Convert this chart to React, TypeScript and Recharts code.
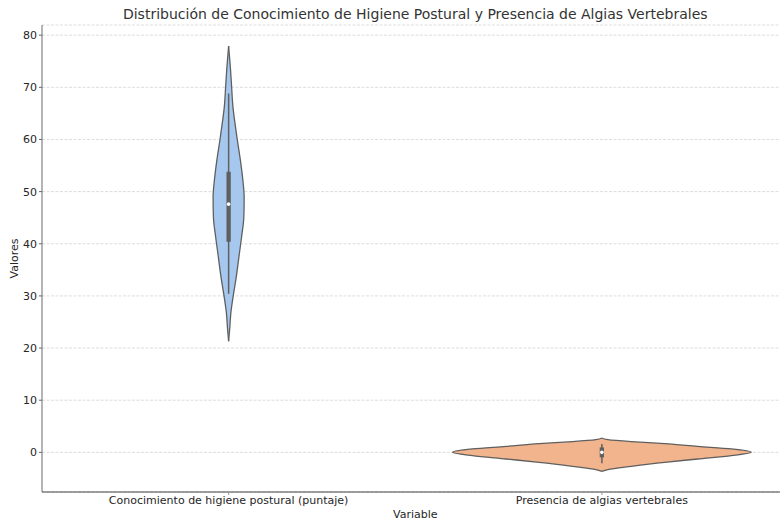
import React from "react";
import {
  ComposedChart,
  Area,
  Line,
  XAxis,
  YAxis,
  CartesianGrid,
  Label,
} from "recharts";

// Category names on the x axis (positions 0 and 1)
const categories = [
  "Conocimiento de higiene postural (puntaje)",
  "Presencia de algias vertebrales",
];

// Kernel-density outline of each violin: value -> half width (in category units)
const conocimientoValues = [21.3, 23.5, 26.7, 29.9, 33.7, 37.5, 41.4, 45.2, 49.0, 52.2, 56.1, 59.9, 62.5, 66.3, 70.1, 73.9, 77.9];
const conocimientoHalfWidth = [0, 0.0027, 0.0059, 0.0121, 0.0206, 0.0276, 0.0349, 0.0408, 0.0416, 0.0381, 0.0314, 0.0233, 0.0182, 0.0115, 0.008, 0.0046, 0];

const algiasValues = [-3.64, -3.31, -2.68, -1.91, -1.27, -0.63, 0, 0.65, 1.15, 1.67, 2.05, 2.43, 2.75];
const algiasHalfWidth = [0, 0.016, 0.079, 0.168, 0.257, 0.347, 0.4, 0.347, 0.257, 0.168, 0.079, 0.016, 0];

// Inner box summary: [whisker low, Q1, median, Q3, whisker high]
const conocimientoBox = [30.4, 40.4, 47.6, 53.8, 68.8];
const algiasBox = [-2.1, -0.95, 0, 0.95, 1.6];

const yTicks = [0, 10, 20, 30, 40, 50, 60, 70, 80];

const violinFill = ["#a7c8ee", "#f1b48c"];
const outline = "#5f5f5f";

const violins = [
  { values: conocimientoValues, half: conocimientoHalfWidth, box: conocimientoBox },
  { values: algiasValues, half: algiasHalfWidth, box: algiasBox },
];

// Per-violin tables for the vertical-layout chart, keyed by value "v"
const shapes = violins.map((vi, i) =>
  vi.values.map((v, k) => ({ v, x: [i - vi.half[k], i + vi.half[k]] }))
);
const whiskers = violins.map((vi, i) => [
  { v: vi.box[0], x: i },
  { v: vi.box[4], x: i },
]);
const boxes = violins.map((vi, i) => [
  { v: vi.box[1], x: i },
  { v: vi.box[3], x: i },
]);
const medians = violins.map((vi, i) => [{ v: vi.box[2], x: i }]);

const font = "'DejaVu Sans', sans-serif";

export default function App() {
  return (
    <div
      style={{
        position: "absolute",
        left: 0,
        top: 0,
        width: 780,
        height: 525,
        overflow: "hidden",
        background: "#ffffff",
        fontFamily: font,
      }}
    >
      <div
        style={{
          position: "absolute",
          left: 0,
          top: 6,
          width: 830.5,
          textAlign: "center",
          fontSize: 14,
          color: "#333333",
          whiteSpace: "nowrap",
        }}
      >
        Distribución de Conocimiento de Higiene Postural y Presencia de Algias Vertebrales
      </div>
      <ComposedChart
        layout="vertical"
        width={790}
        height={525}
        margin={{ top: 25, right: 1.5, bottom: 0, left: 0 }}
        style={{ fontFamily: font }}
      >
        <CartesianGrid
          horizontal
          vertical={false}
          stroke="#dddddd"
          strokeDasharray="3 1.5"
        />
        <XAxis
          type="number"
          domain={[-0.5, 1.5]}
          ticks={[0, 1]}
          allowDataOverflow
          tickFormatter={(i: number) => categories[i] ?? ""}
          height={33}
          tickSize={3}
          tickMargin={1}
          tick={{ fontSize: 11, fill: "#262626" }}
          tickLine={{ stroke: "#999999" }}
          axisLine={{ stroke: "#444444" }}
        >
          <Label
            value="Variable"
            position="insideBottom"
            offset={7}
            style={{ fontSize: 11, fill: "#262626" }}
          />
        </XAxis>
        <YAxis
          type="number"
          dataKey="v"
          domain={[-7.6, 81.95]}
          ticks={yTicks}
          reversed
          allowDataOverflow
          width={42}
          tickSize={3}
          tickMargin={2}
          tick={{ fontSize: 11, fill: "#262626" }}
          tickLine={{ stroke: "#666666" }}
          axisLine={{ stroke: "#6a6a6a" }}
        >
          <Label
            value="Valores"
            angle={-90}
            position="insideLeft"
            offset={14}
            style={{ fontSize: 11, fill: "#262626", textAnchor: "middle" }}
          />
        </YAxis>
        {shapes.map((d, i) => (
          <Area
            key={`violin${i}`}
            data={d}
            dataKey="x"
            type="monotone"
            fill={violinFill[i]}
            fillOpacity={1}
            stroke={outline}
            strokeWidth={1.3}
            dot={false}
            activeDot={false}
            isAnimationActive={false}
          />
        ))}
        {whiskers.map((d, i) => (
          <Line
            key={`whisker${i}`}
            data={d}
            dataKey="x"
            type="linear"
            stroke={outline}
            strokeWidth={1.5}
            dot={false}
            activeDot={false}
            isAnimationActive={false}
          />
        ))}
        {boxes.map((d, i) => (
          <Line
            key={`box${i}`}
            data={d}
            dataKey="x"
            type="linear"
            stroke={outline}
            strokeWidth={4.3}
            dot={false}
            activeDot={false}
            isAnimationActive={false}
          />
        ))}
        {medians.map((d, i) => (
          <Line
            key={`median${i}`}
            data={d}
            dataKey="x"
            type="linear"
            stroke="none"
            dot={{ r: 1.8, fill: "#ffffff", stroke: "none" }}
            activeDot={false}
            isAnimationActive={false}
          />
        ))}
      </ComposedChart>
    </div>
  );
}
